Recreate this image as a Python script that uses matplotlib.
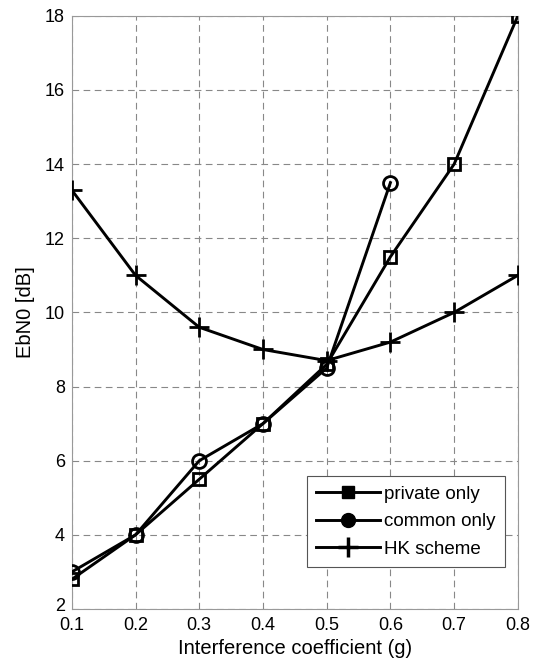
import matplotlib
matplotlib.use("Agg")
import matplotlib.pyplot as plt
from matplotlib.lines import Line2D
import matplotlib.transforms as mtransforms

plt.rcParams['font.family'] = ['Liberation Sans', 'DejaVu Sans']

g_private = [0.1, 0.2, 0.3, 0.4, 0.5, 0.6, 0.7, 0.8]
ebn0_private = [2.8, 4.0, 5.5, 7.0, 8.6, 11.5, 14.0, 18.0]

g_common = [0.1, 0.2, 0.3, 0.4, 0.5, 0.6]
ebn0_common = [3.0, 4.0, 6.0, 7.0, 8.5, 13.5]

g_hk = [0.1, 0.2, 0.3, 0.4, 0.5, 0.6, 0.7, 0.8]
ebn0_hk = [13.3, 11.0, 9.6, 9.0, 8.7, 9.2, 10.0, 11.0]

xticks = [0.1, 0.2, 0.3, 0.4, 0.5, 0.6, 0.7, 0.8]
yticks = [2, 4, 6, 8, 10, 12, 14, 16, 18]
labels = ['private only', 'common only', 'HK scheme']

fig = plt.figure(figsize=(5.48, 6.68), dpi=100)
ax = fig.add_axes([0.131, 0.0883, 0.814, 0.888])

lw = 2.1
ax.plot(g_private, ebn0_private, color='black', lw=lw, marker='s', ms=9,
        mfc='none', mec='black', mew=2.0, zorder=3)
ax.plot(g_common, ebn0_common, color='black', lw=lw, marker='o', ms=10,
        mfc='none', mec='black', mew=2.0, zorder=3)
ax.plot(g_hk, ebn0_hk, color='black', lw=lw, marker='+', ms=14,
        mec='black', mew=2.0, zorder=3)

ax.set_xlim(0.1, 0.8)
ax.set_ylim(2, 18)
ax.set_xticks(xticks)
ax.set_xticklabels([f"{t:.1f}" for t in xticks])
ax.set_yticks(yticks)
ax.tick_params(axis='both', labelsize=13, length=0, colors='black')
ax.tick_params(axis='x', pad=6)
ax.tick_params(axis='y', pad=5)
ax.grid(True, color='#888888', linestyle=(0, (6, 4)), linewidth=0.8)
for s in ax.spines.values():
    s.set_color('#999999')
    s.set_linewidth(0.8)

# nudge the bottom y tick label up slightly so it does not touch "0.1"
lab0 = ax.get_yticklabels()[0]
lab0.set_transform(lab0.get_transform() +
                   mtransforms.ScaledTranslation(0, 3 / 72, fig.dpi_scale_trans))

ax.set_xlabel('Interference coefficient (g)', fontsize=14.5, labelpad=3)
ax.set_ylabel('EbN0 [dB]', fontsize=14.5, labelpad=7)

handles = [
    Line2D([], [], color='black', lw=lw, marker='s', ms=9, mfc='black', mec='black'),
    Line2D([], [], color='black', lw=lw, marker='o', ms=10, mfc='black', mec='black'),
    Line2D([], [], color='black', lw=lw, marker='+', ms=14, mec='black', mew=2.5),
]
leg = ax.legend(handles, labels, loc='lower right', bbox_to_anchor=(0.972, 0.071),
                fontsize=13.5, frameon=True, fancybox=False, handlelength=3.4,
                handletextpad=0.25, borderpad=0.5, labelspacing=0.55,
                borderaxespad=0.0)
leg.get_frame().set_edgecolor('#555555')
leg.get_frame().set_linewidth(0.8)
leg.get_frame().set_alpha(1)

fig.savefig('out.png', dpi=100)
